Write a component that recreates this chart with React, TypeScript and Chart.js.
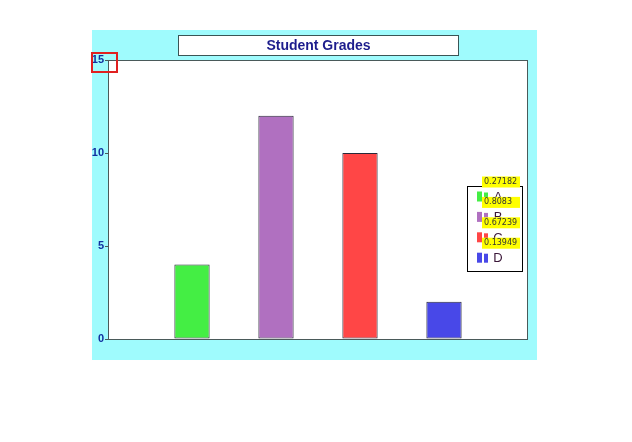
import React, { useEffect, useRef } from "react";
import { Chart, registerables } from "chart.js";

Chart.register(...registerables);

const categories = ["A", "B", "C", "D"];
const grades = [4, 12, 10, 2];
const barColors = ["#44ee44", "#b070c0", "#ff4646", "#4848e8"];
const legendValues = ["0.27182", "0.8083", "0.67239", "0.13949"];
const titleText = "Student Grades";
const yMin = 0;
const yMax = 15;
const yStep = 5;

const decorPlugin = {
  id: "decor",
  beforeDraw(chart: any) {
    const ctx = chart.ctx;
    const a = chart.chartArea;
    ctx.save();
    ctx.fillStyle = "#ffffff";
    ctx.fillRect(0, 0, chart.width, chart.height);
    ctx.fillStyle = "#9ffbfd";
    ctx.fillRect(a.left - 16, a.top - 30, a.right - a.left + 25, a.bottom - a.top + 51);
    ctx.fillStyle = "#ffffff";
    ctx.fillRect(a.left, a.top, a.right - a.left, a.bottom - a.top);
    ctx.restore();
  },
  beforeDatasetsDraw(chart: any) {
    const ctx = chart.ctx;
    const a = chart.chartArea;
    ctx.save();
    ctx.strokeStyle = "#4a5a5a";
    ctx.lineWidth = 1;
    ctx.strokeRect(a.left + 0.5, a.top + 0.5, a.right - a.left - 1, a.bottom - a.top);
    ctx.restore();
  },
  afterDraw(chart: any) {
    const ctx = chart.ctx;
    const a = chart.chartArea;
    ctx.save();
    // title box
    const tx0 = 178.5, ty0 = 35.5, tw = 280, th = 20;
    ctx.fillStyle = "#ffffff";
    ctx.fillRect(tx0, ty0, tw, th);
    ctx.strokeStyle = "#3a5555";
    ctx.lineWidth = 1;
    ctx.strokeRect(tx0, ty0, tw, th);
    ctx.fillStyle = "#1c1c8c";
    ctx.font = "bold 14px 'Liberation Sans', Arial, sans-serif";
    ctx.textAlign = "center";
    ctx.textBaseline = "middle";
    ctx.fillText(titleText, tx0 + tw / 2, ty0 + th / 2 + 0.5);

    // red highlight around top tick label
    const yScale = chart.scales.y;
    const topY = yScale.getPixelForValue(yMax);
    ctx.strokeStyle = "#e02020";
    ctx.lineWidth = 2;
    ctx.strokeRect(a.left - 16, topY - 7, 25, 19);

    // legend
    const lx = 467.5, ly = 186.5, lw = 55, lh = 85;
    ctx.fillStyle = "#ffffff";
    ctx.fillRect(lx, ly, lw, lh);
    ctx.strokeStyle = "#000000";
    ctx.lineWidth = 1;
    ctx.strokeRect(lx, ly, lw, lh);
    const rows = categories.map((_, i) => 196.5 + i * 20.4);
    categories.forEach((c, i) => {
      const cy = rows[i];
      ctx.fillStyle = barColors[i];
      ctx.fillRect(477, cy - 5, 5, 10);
      ctx.fillRect(484, cy - 4, 4, 9);
      ctx.fillStyle = "#3a1638";
      ctx.font = "13px 'Liberation Sans', Arial, sans-serif";
      ctx.textAlign = "center";
      ctx.textBaseline = "middle";
      ctx.fillText(c, 498, cy + 1);
    });
    categories.forEach((_, i) => {
      const top = rows[i] - 20;
      ctx.fillStyle = "#ffff00";
      ctx.fillRect(482, top, 38, 11);
      ctx.fillStyle = "#333333";
      ctx.font = "8px 'DejaVu Sans', sans-serif";
      ctx.textAlign = "left";
      ctx.textBaseline = "middle";
      ctx.fillText(legendValues[i], 484, top + 5.5);
    });
    ctx.restore();
  },
};

export default function App() {
  const ref = useRef<HTMLCanvasElement>(null);
  useEffect(() => {
    if (!ref.current) return;
    const labels = ["", ...categories, ""];
    const data = [null, ...grades, null];
    const colors = ["transparent", ...barColors, "transparent"];
    const chart = new Chart(ref.current, {
      type: "bar",
      data: {
        labels,
        datasets: [
          {
            data,
            backgroundColor: colors,
            borderColor: "#2a2a3a",
            borderWidth: 1,
            borderSkipped: false,
            categoryPercentage: 1,
            barPercentage: 0.42,
          },
        ],
      },
      options: {
        responsive: false,
        animation: false,
        layout: { padding: { left: 92, right: 104, top: 60, bottom: 103 } },
        plugins: { legend: { display: false }, tooltip: { enabled: false }, title: { display: false } },
        scales: {
          x: {
            offset: false,
            grid: { display: false },
            border: { display: false },
            ticks: { display: false },
            afterFit(scale: any) {
              scale.height = 0;
            },
          },
          y: {
            min: yMin,
            max: yMax,
            border: { display: false },
            grid: { drawOnChartArea: false, drawTicks: true, tickLength: 3, color: "#4a5a5a" },
            ticks: {
              stepSize: yStep,
              padding: 1,
              color: "#1030a0",
              font: { family: "'Liberation Sans', Arial, sans-serif", size: 11, weight: "bold" },
            },
            afterFit(scale: any) {
              scale.width = 16;
            },
          },
        },
      },
      plugins: [decorPlugin],
    } as any);
    return () => chart.destroy();
  }, []);
  return (
    <div style={{ position: "absolute", left: 0, top: 0, width: 632, height: 442 }}>
      <canvas ref={ref} width={632} height={442} style={{ display: "block" }} />
    </div>
  );
}
